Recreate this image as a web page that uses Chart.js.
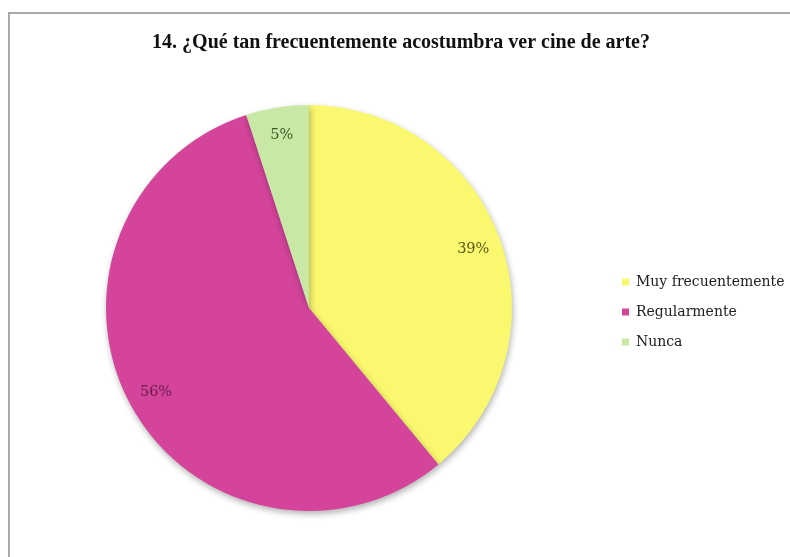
<!DOCTYPE html>
<html>
<head>
<meta charset="utf-8">
<script src="https://cdn.jsdelivr.net/npm/chart.js@4/dist/chart.umd.min.js"></script>
<style>
  html, body { margin: 0; padding: 0; background: #ffffff; }
  #wrap { width: 790px; height: 557px; position: relative; }
</style>
</head>
<body>
<div id="wrap"><canvas id="c" width="790" height="557"></canvas></div>
<script>
// Survey answers and their shares (percent)
const categories = ['Muy frecuentemente', 'Regularmente', 'Nunca'];
const shares = [39, 56, 5];
const sliceColors = ['#F9F86E', '#D3449A', '#C9E7A5'];
const labelColors = ['#5a5a1c', '#6a1d4c', '#3e5a26'];
const titleText = '14. ¿Qué tan frecuentemente acostumbra ver cine de arte?';

const serif = '"DejaVu Serif", "Liberation Serif", serif';
const titleSerif = '"Liberation Serif", "DejaVu Serif", serif';

// Gray frame along the top and left edges of the chart panel
const framePlugin = {
  id: 'frame',
  beforeDraw(chart) {
    const ctx = chart.ctx;
    ctx.save();
    ctx.strokeStyle = '#a8a8a8';
    ctx.lineWidth = 2;
    ctx.beginPath();
    ctx.moveTo(9, chart.height);
    ctx.lineTo(9, 13);
    ctx.lineTo(chart.width, 13);
    ctx.stroke();
    ctx.restore();
  }
};

// Soft drop shadow under the pie
const shadowPlugin = {
  id: 'pieShadow',
  beforeDatasetsDraw(chart) {
    const ctx = chart.ctx;
    ctx.save();
    ctx.shadowColor = 'rgba(0,0,0,0.3)';
    ctx.shadowBlur = 6;
    ctx.shadowOffsetX = 1;
    ctx.shadowOffsetY = 3;
  },
  afterDatasetsDraw(chart) {
    chart.ctx.restore();
  }
};

// Percentage labels placed near the outer edge of each slice
const sliceLabelPlugin = {
  id: 'sliceLabels',
  afterDatasetsDraw(chart) {
    const ctx = chart.ctx;
    const meta = chart.getDatasetMeta(0);
    ctx.save();
    ctx.shadowColor = 'transparent';
    ctx.font = '14.5px ' + serif;
    ctx.textAlign = 'center';
    ctx.textBaseline = 'middle';
    meta.data.forEach((arc, i) => {
      const p = arc.getProps(['x', 'y', 'startAngle', 'endAngle', 'outerRadius'], true);
      const mid = (p.startAngle + p.endAngle) / 2;
      const r = p.outerRadius * 0.86;
      ctx.fillStyle = labelColors[i];
      ctx.fillText(shares[i] + '%', p.x + Math.cos(mid) * r, p.y + Math.sin(mid) * r);
    });
    ctx.restore();
  }
};

new Chart(document.getElementById('c'), {
  type: 'pie',
  data: {
    labels: categories,
    datasets: [{
      data: shares,
      backgroundColor: sliceColors,
      borderWidth: 0
    }]
  },
  options: {
    responsive: false,
    animation: false,
    layout: { padding: { left: 12, right: 0, top: 0, bottom: 46 } },
    plugins: {
      tooltip: { enabled: false },
      title: {
        display: true,
        text: titleText,
        color: '#111111',
        font: { family: titleSerif, size: 20, weight: 'bold' },
        padding: { top: 31, bottom: 50 }
      },
      legend: {
        display: true,
        position: 'right',
        fullSize: false,
        maxWidth: 184,
        title: { display: true, text: '', font: { size: 5 }, padding: 1 },
        labels: {
          boxWidth: 7,
          boxHeight: 7,
          padding: 16,
          color: '#222222',
          font: { family: serif, size: 14 }
        }
      }
    }
  },
  plugins: [framePlugin, shadowPlugin, sliceLabelPlugin]
});
</script>
</body>
</html>
